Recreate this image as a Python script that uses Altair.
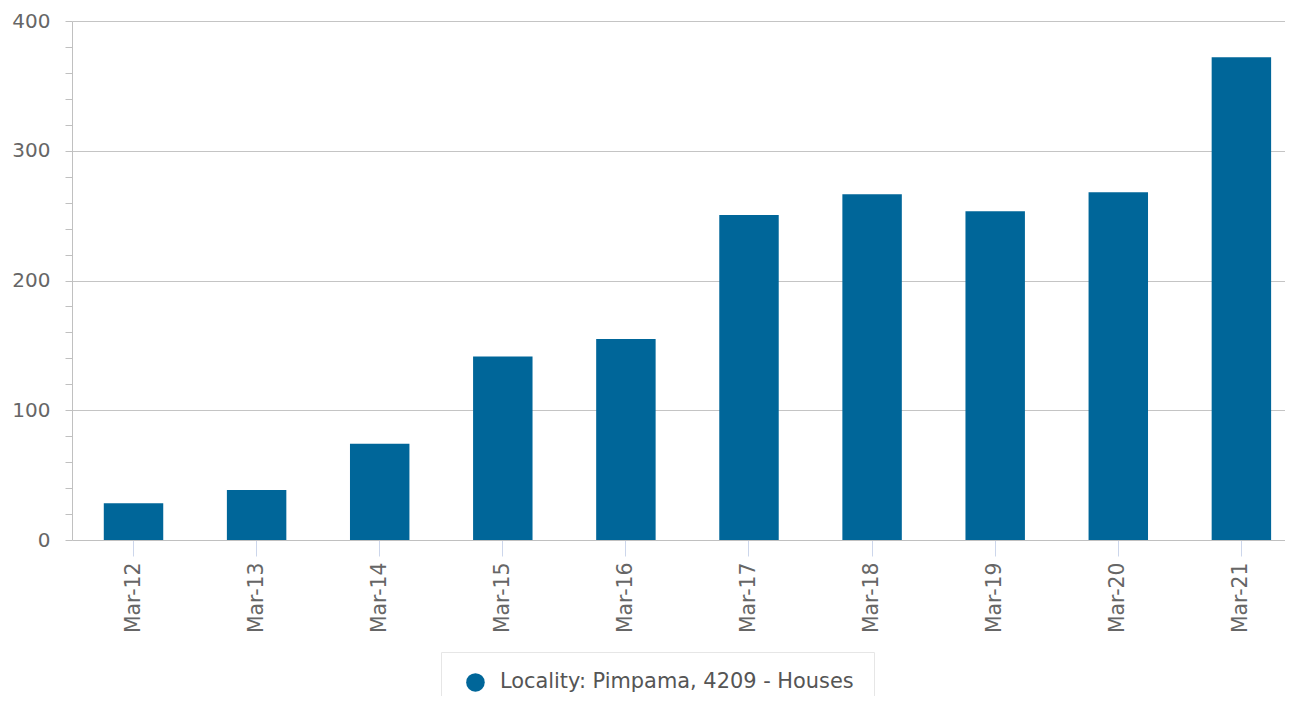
import altair as alt
import pandas as pd

categories = ["Mar-12", "Mar-13", "Mar-14", "Mar-15", "Mar-16",
              "Mar-17", "Mar-18", "Mar-19", "Mar-20", "Mar-21"]
values = [28.3, 38.6, 74.1, 141.5, 155, 250.4, 266.4, 253.3, 268, 372]
series_name = "Locality: Pimpama, 4209 - Houses"
y_ticks = list(range(0, 401, 20))

df = pd.DataFrame({"cat": categories, "value": values, "series": series_name})

FONT = "DejaVu Sans"

chart = alt.Chart(df).mark_bar(color="#006699").encode(
    x=alt.X("cat:N", sort=categories,
            scale=alt.Scale(paddingInner=0.517, paddingOuter=0.1855, align=0.696),
            axis=alt.Axis(title=None, labelAngle=-90, labelFontSize=20.4,
                          labelColor="#666666", labelFont=FONT,
                          tickColor="#ccd6eb", tickSize=16, labelPadding=6,
                          domainColor="#c0c0c0", grid=False)),
    y=alt.Y("value:Q", scale=alt.Scale(domain=[0, 400], nice=False),
            axis=alt.Axis(title=None, values=y_ticks,
                          labelExpr="datum.value % 100 === 0 ? datum.label : ''",
                          labelFontSize=20, labelColor="#666666", labelFont=FONT,
                          labelPadding=15, tickSize=7, tickColor="#c0c0c0",
                          domainColor="#c0c0c0", labelFlush=False, labelOverlap=False,
                          gridColor="#c4c4c4",
                          gridOpacity={"condition": {"test": "datum.value % 100 === 0 && datum.value > 0", "value": 1}, "value": 0})),
    color=alt.Color("series:N", scale=alt.Scale(range=["#006699"]),
                    legend=alt.Legend(title=None, orient="none", legendX=369, legendY=631,
                                      symbolType="circle", symbolSize=346,
                                      symbolStrokeWidth=0, symbolOpacity=1,
                                      labelFontSize=20.9, labelColor="#555555", labelFont=FONT,
                                      labelOffset=14, padding=20, symbolOffset=4,
                                      strokeColor="#e6e6e6", fillColor="#ffffff",
                                      labelLimit=600)),
).properties(
    width=1213, height=519,
    autosize=alt.AutoSizeParams(type="none"),
    padding={"left": 64, "top": 13, "right": 0, "bottom": 156},
).configure_view(stroke=None)

chart.save("out.html", embed_options={"renderer": "svg", "actions": False})
